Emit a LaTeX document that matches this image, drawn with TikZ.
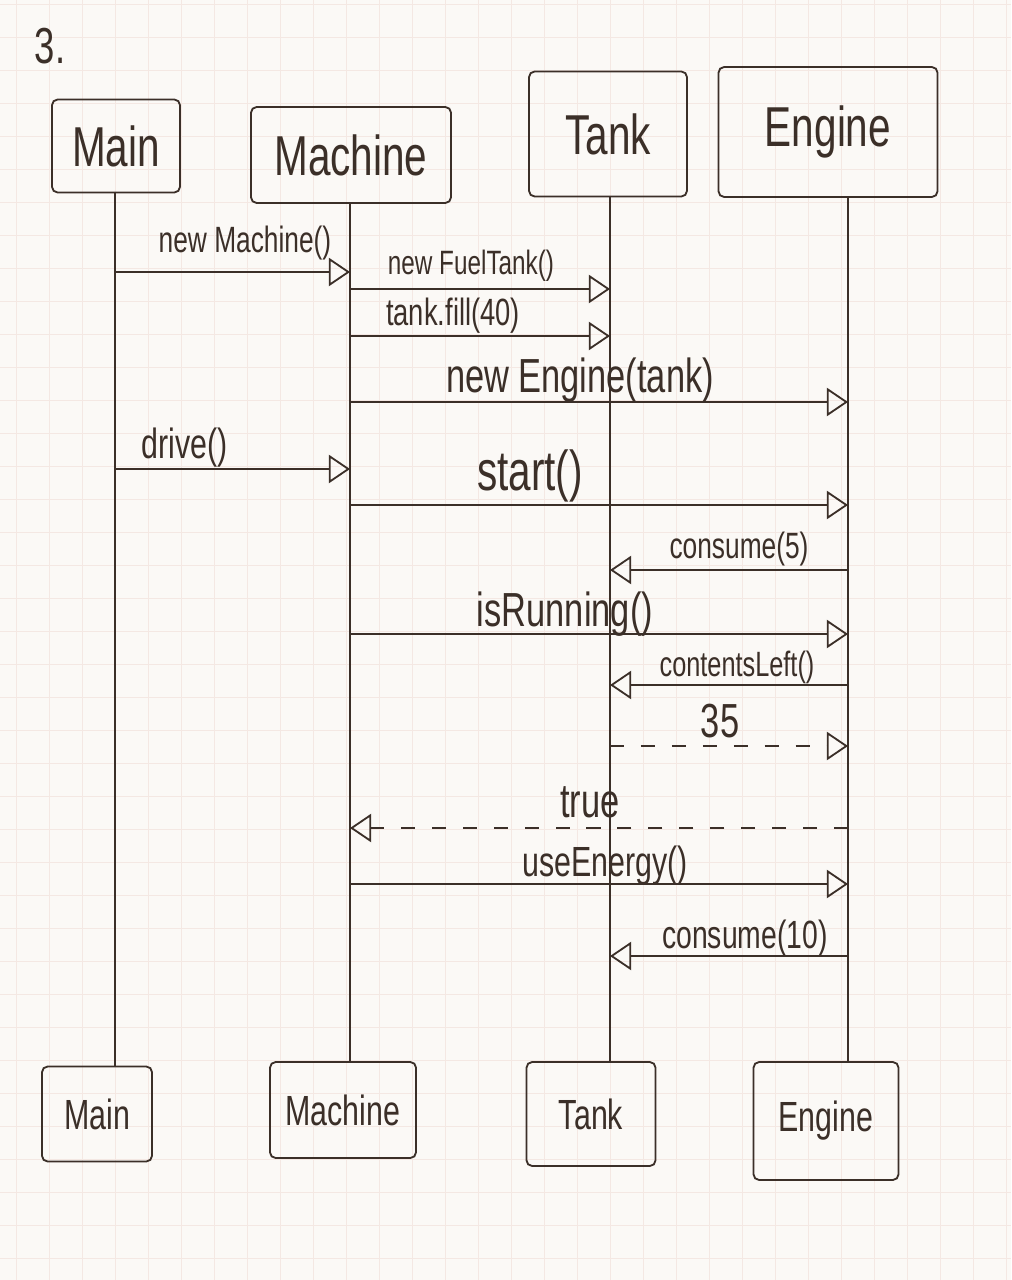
\documentclass[tikz,border=0pt]{standalone}
\usepackage{fontspec}
\usepackage{graphicx}
\setmainfont{Liberation Sans}
\usetikzlibrary{arrows.meta}
\definecolor{ink}{HTML}{3B2F28}
\definecolor{paper}{HTML}{FBF9F6}
\definecolor{gridc}{HTML}{F4E8E3}
\newcommand\hwtext[1]{\scalebox{0.72}[1]{#1}}
\def\pxu{0.025cm}
\begin{document}
\begin{tikzpicture}[x=0.025cm,y=-0.025cm,
  gridline/.style={gridc, line width=0.6pt},
  headbox/.style={draw=ink, line width=1.3pt, rounded corners=4pt, inner sep=0pt, text=ink, font=\fontsize{40}{44}\selectfont},
  footbox/.style={draw=ink, line width=1.3pt, rounded corners=4pt, inner sep=0pt, text=ink, font=\fontsize{30}{34}\selectfont},
  life/.style={draw=ink, line width=1.3pt},
  msg/.style={draw=ink, line width=1.3pt, -{Triangle[open, length=15pt, width=20pt]}},
  reply/.style={msg, dash pattern=on 10pt off 12pt},
  lbl/.style={text=ink, inner sep=0pt, font=\fontsize{28}{32}\selectfont}]
% paper and grid
\fill[paper] (0,0) rectangle (1011,1280);
\useasboundingbox (0,0) rectangle (1011,1280);
\foreach \gx in {16,49,...,1011} \draw[gridline] (\gx,0) -- (\gx,1280);
\foreach \gy in {4,37,...,1280} \draw[gridline] (0,\gy) -- (1011,\gy);
% number
\node[lbl, font=\fontsize{36}{40}\selectfont] (num) at (50,46) {\hwtext{3.}};
% heads
\node[headbox, minimum width=128*\pxu, minimum height=93*\pxu]  (hMain)    at (116,146) {\hwtext{Main}};
\node[headbox, minimum width=200*\pxu, minimum height=96*\pxu]  (hMachine) at (351,155) {\hwtext{Machine}};
\node[headbox, minimum width=158*\pxu, minimum height=125*\pxu] (hTank)    at (608,134) {\hwtext{Tank}};
\node[headbox, minimum width=219*\pxu, minimum height=130*\pxu] (hEngine)  at (828,132) {\hwtext{Engine}};
% feet
\node[footbox, minimum width=110*\pxu, minimum height=95*\pxu]  (bMain)    at (97,1114)  {\hwtext{Main}};
\node[footbox, minimum width=146*\pxu, minimum height=96*\pxu]  (bMachine) at (343,1110) {\hwtext{Machine}};
\node[footbox, minimum width=129*\pxu, minimum height=104*\pxu] (bTank)    at (591,1114) {\hwtext{Tank}};
\node[footbox, minimum width=145*\pxu, minimum height=118*\pxu] (bEngine)  at (826,1121) {\hwtext{Engine}};
% lifeline x positions
\coordinate (xMain) at (115,0);
\coordinate (xMachine) at (350,0);
\coordinate (xTank) at (610,0);
\coordinate (xEngine) at (848,0);
\draw[life] (hMain.south -| xMain) -- (bMain.north -| xMain);
\draw[life] (hMachine.south -| xMachine) -- (bMachine.north -| xMachine);
\draw[life] (hTank.south -| xTank) -- (bTank.north -| xTank);
\draw[life] (hEngine.south -| xEngine) -- (bEngine.north -| xEngine);
% message rows
\coordinate (r1) at (0,272);
\coordinate (r2) at (0,289);
\coordinate (r3) at (0,336);
\coordinate (r4) at (0,402);
\coordinate (r5) at (0,469);
\coordinate (r6) at (0,505);
\coordinate (r7) at (0,570);
\coordinate (r8) at (0,634);
\coordinate (r9) at (0,685);
\coordinate (r10) at (0,746);
\coordinate (r11) at (0,828);
\coordinate (r12) at (0,884);
\coordinate (r13) at (0,956);
% messages
\draw[msg] (xMain |- r1) -- (xMachine |- r1);
\draw[msg] (xMachine |- r2) -- (xTank |- r2);
\draw[msg] (xMachine |- r3) -- (xTank |- r3);
\draw[msg] (xMachine |- r4) -- (xEngine |- r4);
\draw[msg] (xMain |- r5) -- (xMachine |- r5);
\draw[msg] (xMachine |- r6) -- (xEngine |- r6);
\draw[msg] (xEngine |- r7) -- (xTank |- r7);
\draw[msg] (xMachine |- r8) -- (xEngine |- r8);
\draw[msg] (xEngine |- r9) -- (xTank |- r9);
\draw[reply] (xTank |- r10) -- (xEngine |- r10);
\draw[reply] (xEngine |- r11) -- (xMachine |- r11);
\draw[msg] (xMachine |- r12) -- (xEngine |- r12);
\draw[msg] (xEngine |- r13) -- (xTank |- r13);
% labels
\node[lbl, font=\fontsize{26}{30}\selectfont] (l1) at (245,243) {\hwtext{new Machine()}};
\node[lbl, font=\fontsize{24}{28}\selectfont] (l2) at (471,266) {\hwtext{new FuelTank()}};
\node[lbl, font=\fontsize{27}{30}\selectfont] (l3) at (453,316) {\hwtext{tank.fill(40)}};
\node[lbl, font=\fontsize{34}{38}\selectfont] (l4) at (580,380) {\hwtext{new Engine(tank)}};
\node[lbl, font=\fontsize{30}{34}\selectfont] (l5) at (185,448) {\hwtext{drive()}};
\node[lbl, font=\fontsize{40}{44}\selectfont] (l6) at (530,476) {\hwtext{start()}};
\node[lbl, font=\fontsize{26}{30}\selectfont] (l7) at (739,549) {\hwtext{consume(5)}};
\node[lbl, font=\fontsize{34}{38}\selectfont] (l8) at (565,614) {\hwtext{isRunning()}};
\node[lbl, font=\fontsize{25}{29}\selectfont] (l9) at (737,667) {\hwtext{contentsLeft()}};
\node[lbl, font=\fontsize{34}{38}\selectfont] (l10) at (720,721) {\hwtext{35}};
\node[lbl, font=\fontsize{34}{38}\selectfont] (l11) at (590,802) {\hwtext{true}};
\node[lbl, font=\fontsize{30}{34}\selectfont] (l12) at (605,866) {\hwtext{useEnergy()}};
\node[lbl, font=\fontsize{28}{32}\selectfont] (l13) at (745,938) {\hwtext{consume(10)}};
\end{tikzpicture}
\end{document}
